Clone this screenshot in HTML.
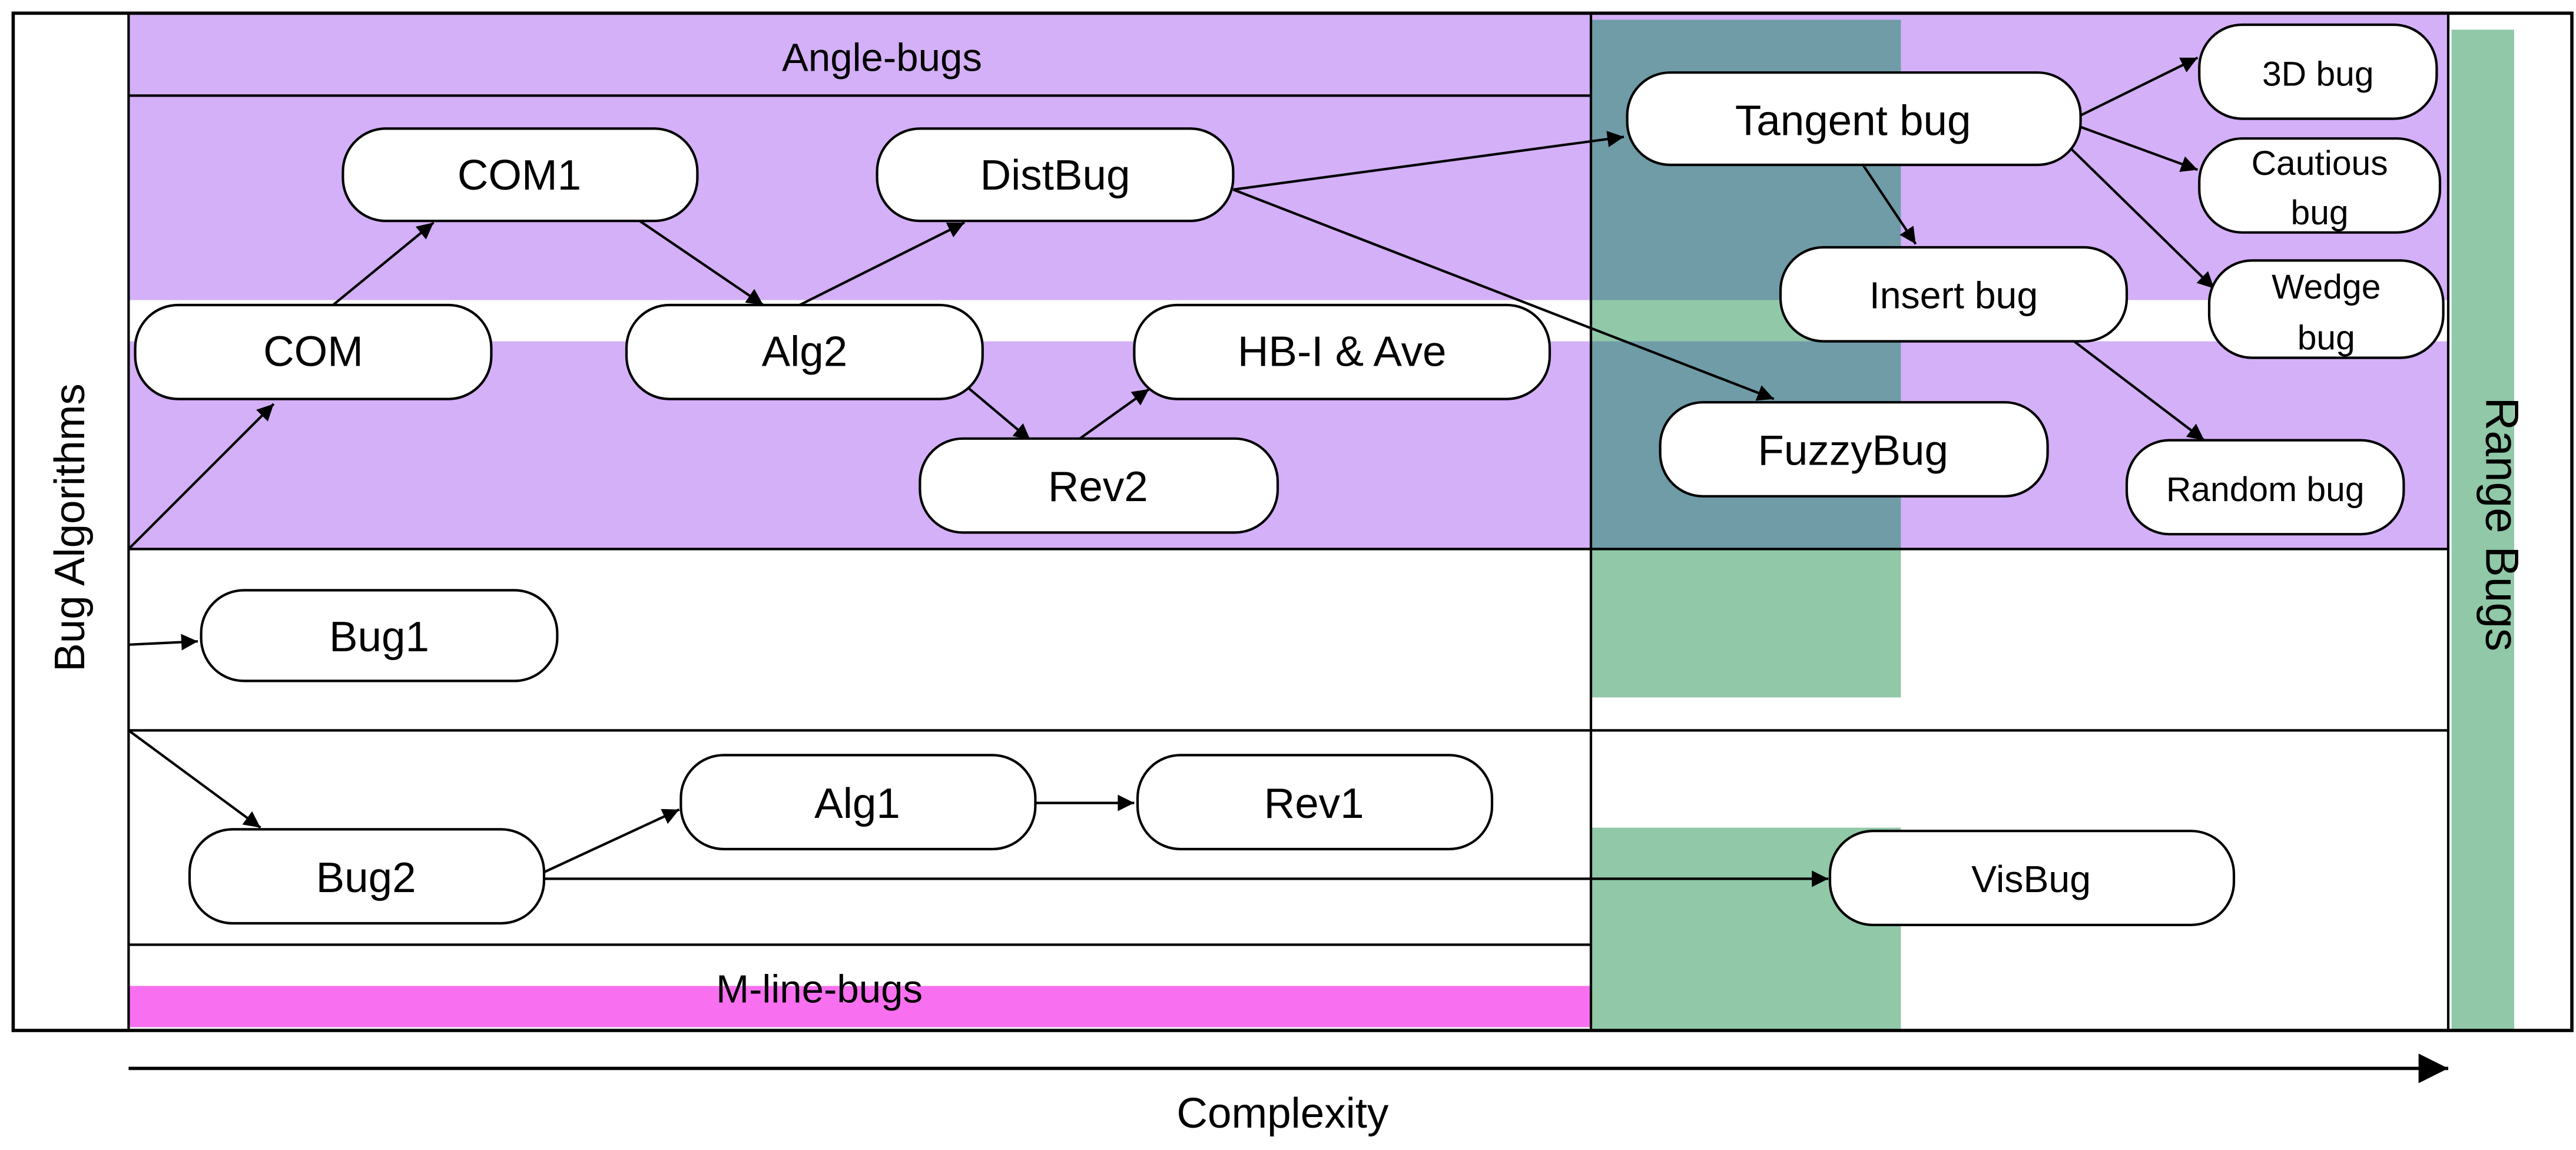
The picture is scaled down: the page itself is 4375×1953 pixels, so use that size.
<!DOCTYPE html>
<html><head><meta charset="utf-8"><style>html,body{margin:0;padding:0;background:#fff}svg{display:block}</style></head>
<body>
<svg width="4375" height="1953" viewBox="0 0 1562.5 697.5" xmlns="http://www.w3.org/2000/svg" font-family="Liberation Sans, sans-serif">
<defs>
<marker id="a" viewBox="0 0 10 10" refX="10" refY="5" markerWidth="14" markerHeight="10" markerUnits="userSpaceOnUse" orient="auto"><path d="M0,0 L10,5 L0,10 z" fill="#000"/></marker>
<marker id="b" viewBox="0 0 10 10" refX="10" refY="5" markerWidth="22" markerHeight="18" markerUnits="userSpaceOnUse" orient="auto"><path d="M0,0 L10,5 L0,10 z" fill="#000"/></marker>
</defs>
<rect x="0" y="0" width="1562.5" height="697.5" fill="#fff"/>
<rect x="78" y="8" width="1407" height="325" fill="#d4b0f8"/>
<rect x="78" y="182" width="1407" height="25" fill="#fff"/>
<rect x="965" y="12" width="188" height="171" fill="#6f9ca6"/>
<rect x="965" y="182" width="188" height="25" fill="#90c8a8"/>
<rect x="965" y="207" width="188" height="126" fill="#6f9ca6"/>
<rect x="965" y="333" width="188" height="90" fill="#90c8a8"/>
<rect x="965" y="502" width="188" height="123" fill="#90c8a8"/>
<rect x="1487" y="18" width="38" height="607" fill="#90c8a8"/>
<rect x="78" y="598" width="887" height="25" fill="#f870f0"/>
<g stroke="#000" fill="none">
<rect x="8" y="8" width="1552" height="617" stroke-width="2"/>
<line x1="78" y1="8" x2="78" y2="625" stroke-width="1.5"/>
<line x1="965" y1="8" x2="965" y2="625" stroke-width="1.5"/>
<line x1="1485" y1="8" x2="1485" y2="625" stroke-width="1.5"/>
<line x1="78" y1="58" x2="965" y2="58" stroke-width="1.5"/>
<line x1="78" y1="333" x2="1485" y2="333" stroke-width="1.5"/>
<line x1="78" y1="443" x2="1485" y2="443" stroke-width="1.5"/>
<line x1="78" y1="573" x2="965" y2="573" stroke-width="1.5"/>
</g>
<g stroke="#000" stroke-width="1.5" fill="none" marker-end="url(#a)">
<line x1="78" y1="333" x2="166" y2="245"/>
<line x1="202" y1="185" x2="263" y2="135"/>
<line x1="388" y1="134" x2="463" y2="185"/>
<line x1="485" y1="185" x2="585" y2="135"/>
<line x1="587" y1="235" x2="625" y2="267"/>
<line x1="655" y1="266" x2="697" y2="236"/>
<line x1="748" y1="115" x2="985" y2="83"/>
<line x1="748" y1="115" x2="1076" y2="242"/>
<line x1="1262" y1="70" x2="1333" y2="35"/>
<line x1="1262" y1="77" x2="1333" y2="103"/>
<line x1="1256" y1="90" x2="1343" y2="175"/>
<line x1="1130" y1="100" x2="1162" y2="148"/>
<line x1="1258" y1="207" x2="1337" y2="267"/>
<line x1="78" y1="391" x2="120" y2="389"/>
<line x1="78" y1="443" x2="158" y2="502"/>
<line x1="330" y1="529" x2="412" y2="491"/>
<line x1="628" y1="487" x2="688" y2="487"/>
<line x1="330" y1="533" x2="1109" y2="533"/>
</g>
<line x1="78" y1="648" x2="1485" y2="648" stroke="#000" stroke-width="2" marker-end="url(#b)"/>
<g fill="#fff" stroke="#000" stroke-width="1.5">
<rect x="82" y="185" width="216" height="57" rx="26"/>
<rect x="208" y="78" width="215" height="56" rx="26"/>
<rect x="532" y="78" width="216" height="56" rx="26"/>
<rect x="380" y="185" width="216" height="57" rx="26"/>
<rect x="688" y="185" width="252" height="57" rx="26"/>
<rect x="558" y="266" width="217" height="57" rx="26"/>
<rect x="987" y="44" width="275" height="56" rx="26"/>
<rect x="1334" y="15" width="144" height="57" rx="26"/>
<rect x="1334" y="84" width="146" height="57" rx="26"/>
<rect x="1080" y="150" width="210" height="57" rx="26"/>
<rect x="1340" y="158" width="142" height="59" rx="26"/>
<rect x="1007" y="244" width="235" height="57" rx="26"/>
<rect x="1290" y="267" width="168" height="57" rx="26"/>
<rect x="122" y="358" width="216" height="55" rx="26"/>
<rect x="115" y="503" width="215" height="57" rx="26"/>
<rect x="413" y="458" width="215" height="57" rx="26"/>
<rect x="690" y="458" width="215" height="57" rx="26"/>
<rect x="1110" y="504" width="245" height="57" rx="26"/>
</g>
<g font-size="26" text-anchor="middle" fill="#000">
<text x="190" y="222">COM</text>
<text x="315" y="115">COM1</text>
<text x="640" y="115">DistBug</text>
<text x="488" y="222">Alg2</text>
<text x="814" y="222">HB-I &amp; Ave</text>
<text x="666" y="304">Rev2</text>
<text x="1124" y="82">Tangent bug</text>
<text x="1406" y="52" font-size="21">3D bug</text>
<text x="1407" y="106" font-size="21">Cautious</text>
<text x="1407" y="136" font-size="21">bug</text>
<text x="1185" y="187" font-size="23">Insert bug</text>
<text x="1411" y="181" font-size="21">Wedge</text>
<text x="1411" y="212" font-size="21">bug</text>
<text x="1124" y="282">FuzzyBug</text>
<text x="1374" y="304" font-size="21">Random bug</text>
<text x="230" y="395">Bug1</text>
<text x="222" y="541">Bug2</text>
<text x="520" y="496">Alg1</text>
<text x="797" y="496">Rev1</text>
<text x="1232" y="541" font-size="23">VisBug</text>
<text x="535" y="43" font-size="24">Angle-bugs</text>
<text x="497" y="608" font-size="24">M-line-bugs</text>
<text x="778" y="684" font-size="26">Complexity</text>
<text transform="translate(51,320) rotate(-90)" font-size="26">Bug Algorithms</text>
<text transform="translate(1508,318) rotate(90)" font-size="28">Range Bugs</text>
</g>
</svg>
</body></html>
